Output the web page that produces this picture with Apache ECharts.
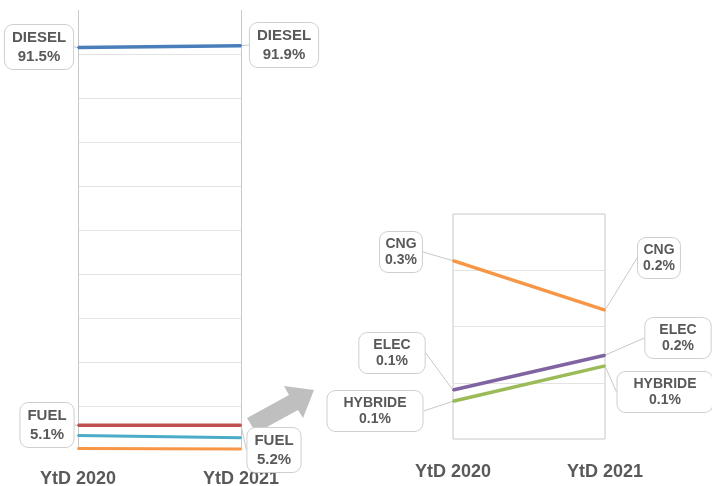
<!DOCTYPE html>
<html>
<head>
<meta charset="utf-8">
<script src="https://cdn.jsdelivr.net/npm/echarts@6/dist/echarts.min.js"></script>
<style>
  html, body { margin: 0; padding: 0; background: #fff; }
  #chart { width: 712px; height: 486px; }
</style>
</head>
<body>
<div id="chart"></div>
<script>
// periods
var periods = ['YtD 2020', 'YtD 2021'];

// left panel (share in %)
var diesel = [91.5, 91.9];
var fuel = [5.6, 5.6];
var other = [3.3, 2.8];
var cngAll = [0.32, 0.23];

// right panel zoom (share in %)
var cng = [0.317, 0.229];
var elec = [0.087, 0.149];
var hybride = [0.067, 0.13];

// texts shown in the callouts
var dieselTxt = ['91.5%', '91.9%'];
var fuelTxt = ['5.1%', '5.2%'];
var cngTxt = ['0.3%', '0.2%'];
var elecTxt = ['0.1%', '0.2%'];
var hybrideTxt = ['0.1%', '0.1%'];

var chart = echarts.init(document.getElementById('chart'));
var font = 'Liberation Sans, Arial, sans-serif';
var txtColor = '#595959';

// callout box centres
function place(spots) {
    return function (p) {
        var s = spots[p.dataIndex];
        return { x: s[0], y: s[1], align: 'center', verticalAlign: 'middle' };
    };
}

function callout(name, texts, size, lh, pad) {
    return {
        show: true,
        formatter: function (p) { return name + '\n' + texts[p.dataIndex]; },
        color: txtColor,
        fontFamily: font,
        fontWeight: 'bold',
        fontSize: size,
        lineHeight: lh,
        align: 'center',
        backgroundColor: '#fff',
        borderColor: '#cfcfcf',
        borderWidth: 1,
        borderRadius: 8,
        padding: pad
    };
}

var guide = { show: true, lineStyle: { color: '#c8c8c8', width: 1 } };

function xAx(idx, margin) {
    return {
        type: 'category', gridIndex: idx, data: periods, boundaryGap: false,
        axisLine: { show: false }, axisTick: { show: false },
        axisLabel: { color: txtColor, fontFamily: font, fontWeight: 'bold', fontSize: 18, margin: margin },
        splitLine: { show: idx === 0, lineStyle: { color: '#c8c8c8', width: 1 } }
    };
}

function yAx(idx, max, step) {
    return {
        type: 'value', gridIndex: idx, min: 0, max: max, interval: step,
        axisLine: { show: false }, axisTick: { show: false }, axisLabel: { show: false },
        splitLine: { show: true, showMinLine: false, showMaxLine: false, lineStyle: { color: '#e3e3e3', width: 1 } }
    };
}

function line(name, data, color, idx, width) {
    return {
        name: name, type: 'line', data: data,
        xAxisIndex: idx, yAxisIndex: idx,
        symbol: 'circle', symbolSize: 2,
        itemStyle: { color: color },
        lineStyle: { color: color, width: width },
        emphasis: { disabled: true },
        z: 3
    };
}

var sDiesel = line('DIESEL', diesel, '#4a7ebb', 0, 3.5);
sDiesel.label = callout('DIESEL', dieselTxt, 15, 19, [3, 7]);
sDiesel.labelLine = guide;
sDiesel.labelLayout = place([[39, 47], [284, 45]]);

var sFuel = line('FUEL', fuel, '#c0504d', 0, 3.5);
sFuel.label = callout('FUEL', fuelTxt, 15, 19, [3, 7]);
sFuel.labelLine = guide;
sFuel.labelLayout = place([[47, 425], [274, 450]]);

var sOther = line('AUTRE', other, '#4bacc6', 0, 3);
var sCngAll = line('CNG', cngAll, '#f79646', 0, 3);

var sCng = line('CNG', cng, '#f79646', 1, 3.5);
sCng.label = callout('CNG', cngTxt, 14, 16, [4, 5]);
sCng.labelLine = guide;
sCng.labelLayout = place([[401, 252], [659, 258]]);

var sElec = line('ELEC', elec, '#8064a2', 1, 3.5);
sElec.label = callout('ELEC', elecTxt, 14, 16, [4, 14]);
sElec.labelLine = guide;
sElec.labelLayout = place([[392, 353], [678, 338]]);

var sHyb = line('HYBRIDE', hybride, '#9bbb59', 1, 3.5);
sHyb.label = callout('HYBRIDE', hybrideTxt, 14, 16, [4, 16]);
sHyb.labelLine = guide;
sHyb.labelLayout = place([[375, 411], [665, 392]]);

chart.setOption({
    animation: false,
    grid: [
        { left: 78, top: 10, width: 163, height: 440, outerBoundsMode: 'none' },
        { left: 453, top: 214, width: 152, height: 225, outerBoundsMode: 'none', show: true, borderColor: '#c8c8c8', borderWidth: 1 }
    ],
    xAxis: [xAx(0, 20), xAx(1, 24)],
    yAxis: [yAx(0, 100, 10), yAx(1, 0.4, 0.1)],
    graphic: [{
        type: 'polygon', z: 1,
        shape: { points: [[256, 433], [247, 418], [289, 395], [284, 386], [314, 390], [303, 418], [298, 410]] },
        style: { fill: '#bfbfbf' }
    }],
    series: [sCngAll, sOther, sFuel, sDiesel, sCng, sElec, sHyb]
});
</script>
</body>
</html>
